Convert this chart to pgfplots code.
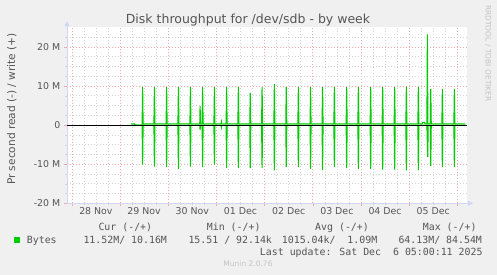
\documentclass[border=0pt]{standalone}
\usepackage{fontspec}
\setmainfont{DejaVu Sans}
\newfontfamily\mono{DejaVu Sans Mono}
\usepackage{pgfplots}
\pgfplotsset{compat=1.18}
\usetikzlibrary{arrows.meta}
\definecolor{bg}{HTML}{F0F0F0}
\definecolor{fg}{HTML}{555555}
\definecolor{axisblue}{HTML}{CFD6F8}
\definecolor{mgrid}{HTML}{F0A8A8}
\definecolor{ngrid}{HTML}{D4D4D4}
\definecolor{linegreen}{HTML}{00CC00}
\definecolor{faint}{HTML}{C4C4C4}
\newcommand\fs[1]{\fontsize{#1}{#1}\selectfont}
\begin{document}
\begin{tikzpicture}[x=1pt,y=1pt]
\useasboundingbox (0,0) rectangle (497,275);
\fill[bg] (0,0) rectangle (497,275);
\begin{axis}[
  at={(67pt,71.7pt)}, anchor=south west,
  scale only axis, width=400pt, height=176pt,
  xmin=-0.1, xmax=8.2, ymin=-20, ymax=25,
  axis background/.style={fill=white},
  axis x line=bottom, axis y line=left,
  axis line style={draw=axisblue, line width=0.8pt},
  x axis line style={-{Triangle[length=5pt,width=5pt]}, shorten >=-6pt},
  y axis line style={-{Triangle[length=5pt,width=5pt]}, shorten >=-6pt},
  xtick={0,1,2,3,4,5,6,7,8}, xticklabels={},
  extra x ticks={0.5,1.5,2.5,3.5,4.5,5.5,6.5,7.5},
  extra x tick labels={28 Nov,29 Nov,30 Nov,01 Dec,02 Dec,03 Dec,04 Dec,05 Dec},
  extra x tick style={grid=none, major tick length=0pt},
  minor xtick={0.25,0.5,0.75,1.25,1.5,1.75,2.25,2.5,2.75,3.25,3.5,3.75,4.25,4.5,4.75,5.25,5.5,5.75,6.25,6.5,6.75,7.25,7.5,7.75},
  ytick={-20,-10,0,10,20}, yticklabels={-20 M,-10 M,0,10 M,20 M},
  minor ytick={-17.5,-15,-12.5,-7.5,-5,-2.5,2.5,5,7.5,12.5,15,17.5,22.5},
  grid=both,
  major grid style={draw=mgrid, dash pattern=on 1pt off 2pt, line width=0.6pt},
  minor grid style={draw=ngrid, dash pattern=on 1pt off 2pt, line width=0.6pt},
  tick align=outside, major tick length=3pt, minor tick length=2pt,
  major tick style={draw=mgrid}, minor tick style={draw=ngrid},
  tick label style={font=\fs{9.4}, text=fg},
  xticklabel style={inner sep=0pt, anchor=north, yshift=-4.5pt},
  yticklabel style={inner sep=0pt, anchor=east, xshift=-3.5pt},
  scaled ticks=false,
]
% read (-)
\addplot[linegreen, line width=1.1pt] coordinates {
(1.23,0)(1.459,0)(1.469,-10.1)(1.479,0)
(1.704,0)(1.714,-10.6)(1.724,0)
(1.957,0)(1.967,-10.7)(1.977,0)
(2.202,0)(2.212,-11.2)(2.222,0)
(2.451,0)(2.461,-10.6)(2.471,0)
(2.655,0)(2.662,-1.2)(2.67,0)
(2.704,0)(2.714,-10.7)(2.724,0)
(2.949,0)(2.959,-10.1)(2.969,0)
(3.097,0)(3.104,-0.5)(3.11,0)
(3.202,0)(3.212,-11.0)(3.222,0)
(3.446,0)(3.456,-11.0)(3.466,0)
(3.693,0)(3.703,-11.0)(3.713,0)
(3.938,0)(3.948,-11.0)(3.958,0)
(4.193,0)(4.203,-11.6)(4.213,0)
(4.440,0)(4.450,-10.7)(4.460,0)
(4.691,0)(4.701,-10.7)(4.711,0)
(4.944,0)(4.954,-11.2)(4.964,0)
(5.193,0)(5.203,-11.5)(5.213,0)
(5.438,0)(5.448,-10.7)(5.458,0)
(5.693,0)(5.703,-11.0)(5.713,0)
(5.936,0)(5.946,-11.2)(5.956,0)
(6.191,0)(6.201,-11.2)(6.211,0)
(6.440,0)(6.450,-11.4)(6.460,0)
(6.689,0)(6.699,-11.4)(6.709,0)
(6.932,0)(6.942,-11.6)(6.952,0)
(7.181,0)(7.191,-11.5)(7.201,0)
(7.368,0)(7.385,-8.1)(7.395,0)
(7.438,0)(7.448,-10.4)(7.458,0)
(7.679,0)(7.689,-10.7)(7.699,0)
(7.928,0)(7.938,-10.7)(7.948,0)
(8.165,0)};
% write (+)
\addplot[linegreen, line width=1.1pt] coordinates {
(1.23,0.3)(1.30,0.3)(1.305,0)(1.459,0)(1.469,9.7)(1.479,0.3)
(1.704,0.3)(1.714,9.7)(1.724,0.3)
(1.957,0.3)(1.967,9.7)(1.977,0.3)
(2.202,0.3)(2.212,9.7)(2.222,0.3)
(2.451,0.3)(2.461,9.7)(2.471,0.3)
(2.655,0.3)(2.662,4.9)(2.67,0.3)
(2.704,0.3)(2.714,9.7)(2.724,0.3)
(2.949,0.3)(2.959,9.7)(2.969,0.3)
(3.097,0.3)(3.104,0.8)(3.11,0.3)
(3.202,0.3)(3.212,9.7)(3.222,0.3)
(3.446,0.3)(3.456,9.7)(3.466,0.3)
(3.693,0.3)(3.703,8.2)(3.713,0.3)
(3.938,0.3)(3.948,9.7)(3.958,0.3)
(4.193,0.3)(4.203,10.5)(4.213,0.3)
(4.440,0.3)(4.450,9.7)(4.460,0.3)
(4.691,0.3)(4.701,9.7)(4.711,0.3)
(4.944,0.3)(4.954,9.7)(4.964,0.3)
(5.193,0.3)(5.203,9.7)(5.213,0.3)
(5.438,0.3)(5.448,9.7)(5.458,0.3)
(5.693,0.3)(5.703,9.7)(5.713,0.3)
(5.936,0.3)(5.946,9.7)(5.956,0.3)
(6.191,0.3)(6.201,9.7)(6.211,0.3)
(6.440,0.3)(6.450,9.7)(6.460,0.3)
(6.689,0.3)(6.699,9.7)(6.709,0.3)
(6.932,0.3)(6.942,9.8)(6.952,0.3)
(7.181,0.3)(7.191,9.8)(7.201,0.3)
(7.27,0.3)(7.28,0.7)(7.32,0.7)(7.33,0.3)
(7.368,0.3)(7.378,23.2)(7.388,0.3)
(7.438,0.3)(7.448,9.2)(7.458,0.3)
(7.679,0.3)(7.689,9.2)(7.699,0.3)
(7.928,0.3)(7.938,9.2)(7.948,0.3)
(8.165,0.3)};
% zero rule
\addplot[black, line width=0.9pt] coordinates {(-0.1,0) (8.2,0)};
\end{axis}
% texts
\node[anchor=base, text=fg, font=\fs{12.5}, inner sep=0pt] at (248pt,251pt) {Disk throughput for /dev/sdb - by week};
\node[rotate=90, text=fg, font=\fs{10.6}, inner sep=0pt] at (11.7pt,166pt) {Pr second read (-) / write (+)};
\node[rotate=-90, text=faint, font=\fs{7.5}, inner sep=0pt] at (488pt,221.5pt) {RRDTOOL / TOBI OETIKER};
\begin{scope}[every node/.style={inner sep=0pt, text=fg, font=\mono\fs{9.9}}]
\node[anchor=base west] at (98.3pt,44pt) {Cur (-/+)};
\node[anchor=base west] at (206.7pt,44pt) {Min (-/+)};
\node[anchor=base west] at (315pt,44pt) {Avg (-/+)};
\node[anchor=base west] at (422.7pt,44pt) {Max (-/+)};
\node[anchor=base west] at (26.7pt,31.4pt) {Bytes};
\node[anchor=base west] at (83.3pt,31.4pt) {11.52M/ 10.16M};
\node[anchor=base west] at (188.3pt,31.4pt) {15.51 / 92.14k};
\node[anchor=base west] at (281.7pt,31.4pt) {1015.04k/\ \ 1.09M};
\node[anchor=base west] at (398.3pt,31.4pt) {64.13M/ 84.54M};
\node[anchor=base east] at (482.7pt,19.7pt) {Last update: Sat Dec\ \ 6 05:00:11 2025};
\end{scope}
\fill[linegreen] (14pt,32pt) rectangle (20pt,38pt);
\node[anchor=base, text=faint, font=\fs{7.5}, inner sep=0pt] at (248pt,8.3pt) {Munin 2.0.76};
\end{tikzpicture}
\end{document}
